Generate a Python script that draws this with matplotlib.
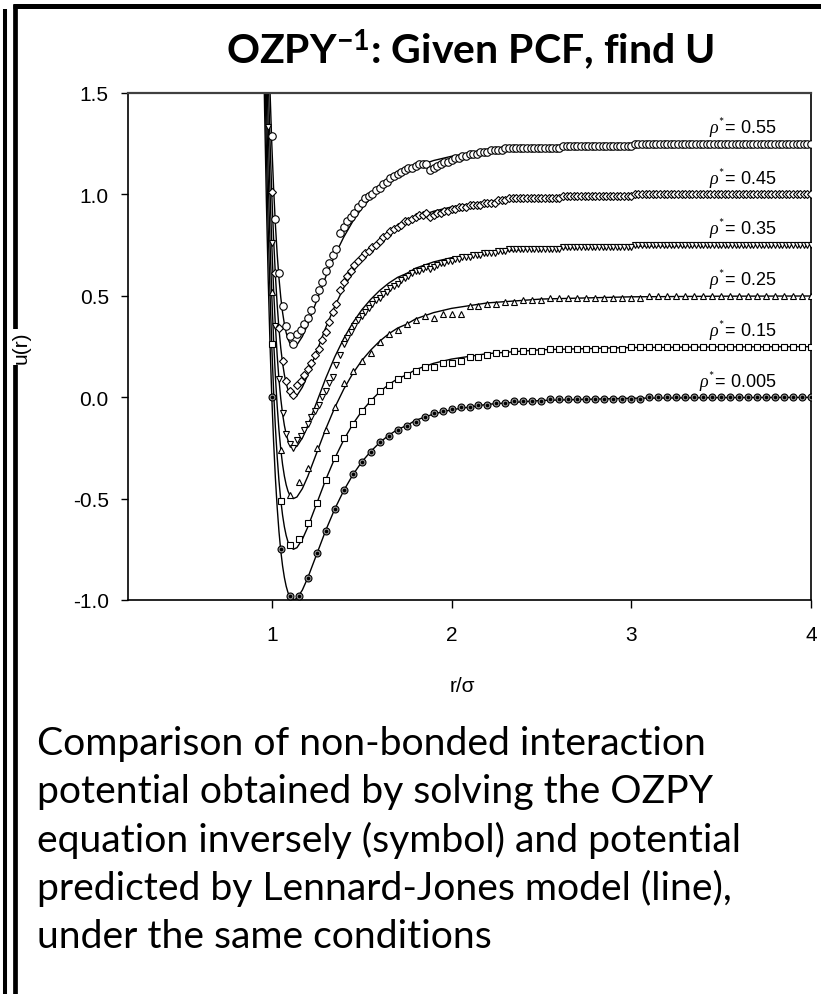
import matplotlib
matplotlib.use('Agg')
import matplotlib.pyplot as plt
import numpy as np
from matplotlib.lines import Line2D

plt.rcParams['font.family'] = ['Liberation Sans', 'DejaVu Sans']
plt.rcParams['mathtext.fontset'] = 'custom'
plt.rcParams['mathtext.rm'] = 'Lato'
plt.rcParams['mathtext.bf'] = 'Lato:bold'
plt.rcParams['mathtext.it'] = 'Liberation Serif:italic'

# sample positions of the inverse-OZPY symbols
r_sparse = np.round(np.arange(1.00, 4.001, 0.05), 2)
r_dense = np.round(np.arange(0.98, 4.001, 0.02), 2)

# Lennard-Jones reference line (shifted by 0.25 per density)
r_line = [0.95, 0.96, 0.97, 0.98, 0.99, 1.00, 1.01, 1.02, 1.03, 1.04,
          1.05, 1.06, 1.07, 1.08, 1.09, 1.10, 1.12, 1.14, 1.17, 1.20,
          1.25, 1.30, 1.35, 1.40, 1.45, 1.50, 1.55, 1.60, 1.65, 1.70,
          1.75, 1.80, 1.90, 2.00, 2.20, 2.50, 3.00, 3.50, 4.00]
u_lj = [1.961, 1.418, 0.963, 0.582, 0.264, 0.000, -0.218, -0.398, -0.544, -0.663,
        -0.758, -0.832, -0.889, -0.932, -0.963, -0.983, -1.000, -0.992, -0.951, -0.891,
        -0.774, -0.657, -0.552, -0.461, -0.384, -0.320, -0.268, -0.224, -0.188, -0.159,
        -0.140, -0.114, -0.083, -0.062, -0.035, -0.016, -0.005, -0.002, -0.001]

densities = ['0.005', '0.15', '0.25', '0.35', '0.45', '0.55']
shift = [0.00, 0.25, 0.50, 0.75, 1.00, 1.25]

u_0005 = [0.00, -0.75, -0.98, -0.98, -0.89, -0.77, -0.66, -0.55, -0.46, -0.38,
          -0.32, -0.27, -0.22, -0.19, -0.16, -0.14, -0.12, -0.10, -0.08, -0.07,
          -0.06, -0.05, -0.05, -0.04, -0.04, -0.03, -0.03, -0.02, -0.02, -0.02,
          -0.02, -0.01, -0.01, -0.01, -0.01, -0.01, -0.01, -0.01, -0.01, -0.01,
          -0.01, -0.01, 0.00, 0.00, 0.00, 0.00, 0.00, 0.00, 0.00, 0.00,
          0.00, 0.00, 0.00, 0.00, 0.00, 0.00, 0.00, 0.00, 0.00, 0.00,
          0.00]

u_015 = [0.26, -0.51, -0.73, -0.70, -0.62, -0.52, -0.41, -0.30, -0.20, -0.13,
         -0.07, -0.02, 0.03, 0.06, 0.09, 0.11, 0.13, 0.15, 0.15, 0.17,
         0.17, 0.18, 0.20, 0.20, 0.21, 0.22, 0.22, 0.23, 0.23, 0.23,
         0.23, 0.24, 0.24, 0.24, 0.24, 0.24, 0.24, 0.24, 0.24, 0.24,
         0.25, 0.25, 0.25, 0.25, 0.25, 0.25, 0.25, 0.25, 0.25, 0.25,
         0.25, 0.25, 0.25, 0.25, 0.25, 0.25, 0.25, 0.25, 0.25, 0.25,
         0.25]

u_025 = [0.52, -0.26, -0.48, -0.42, -0.35, -0.25, -0.16, -0.05, 0.07, 0.13,
         0.18, 0.22, 0.27, 0.31, 0.33, 0.36, 0.38, 0.40, 0.39, 0.41,
         0.41, 0.41, 0.45, 0.45, 0.46, 0.46, 0.47, 0.47, 0.48, 0.48,
         0.48, 0.49, 0.49, 0.49, 0.49, 0.49, 0.49, 0.49, 0.49, 0.49,
         0.49, 0.49, 0.50, 0.50, 0.50, 0.50, 0.50, 0.50, 0.50, 0.50,
         0.50, 0.50, 0.50, 0.50, 0.50, 0.50, 0.50, 0.50, 0.50, 0.50,
         0.50]

u_035 = [1.33, 0.76, 0.35, 0.09, -0.08, -0.18, -0.23, -0.25, -0.21, -0.19,
         -0.16, -0.13, -0.10, -0.07, -0.04, 0.00, 0.03, 0.07, 0.10, 0.16,
         0.21, 0.26, 0.29, 0.32, 0.35, 0.38, 0.40, 0.42, 0.44, 0.46,
         0.48, 0.49, 0.51, 0.52, 0.54, 0.55, 0.56, 0.58, 0.59, 0.60,
         0.61, 0.62, 0.62, 0.63, 0.64, 0.63, 0.64, 0.65, 0.66, 0.66,
         0.67, 0.67, 0.68, 0.68, 0.69, 0.69, 0.69, 0.70, 0.70, 0.70,
         0.71, 0.71, 0.71, 0.71, 0.72, 0.72, 0.72, 0.73, 0.73, 0.73,
         0.73, 0.73, 0.73, 0.73, 0.73, 0.73, 0.73, 0.73, 0.73, 0.73,
         0.73, 0.73, 0.74, 0.74, 0.74, 0.74, 0.74, 0.74, 0.74, 0.74,
         0.74, 0.74, 0.74, 0.74, 0.74, 0.74, 0.74, 0.74, 0.74, 0.74,
         0.74, 0.74, 0.75, 0.75, 0.75, 0.75, 0.75, 0.75, 0.75, 0.75,
         0.75, 0.75, 0.75, 0.75, 0.75, 0.75, 0.75, 0.75, 0.75, 0.75,
         0.75, 0.75, 0.75, 0.75, 0.75, 0.75, 0.75, 0.75, 0.75, 0.75,
         0.75, 0.75, 0.75, 0.75, 0.75, 0.75, 0.75, 0.75, 0.75, 0.75,
         0.75, 0.75, 0.75, 0.75, 0.75, 0.75, 0.75, 0.75, 0.75, 0.75,
         0.75, 0.75]

u_045 = [1.58, 1.01, 0.61, 0.34, 0.18, 0.08, 0.03, 0.01, 0.06, 0.08,
         0.11, 0.14, 0.17, 0.21, 0.24, 0.28, 0.32, 0.37, 0.42, 0.46,
         0.53, 0.57, 0.60, 0.62, 0.65, 0.67, 0.69, 0.71, 0.72, 0.74,
         0.75, 0.77, 0.79, 0.80, 0.82, 0.83, 0.84, 0.85, 0.87, 0.87,
         0.88, 0.89, 0.90, 0.90, 0.91, 0.89, 0.90, 0.91, 0.91, 0.92,
         0.92, 0.93, 0.93, 0.94, 0.94, 0.94, 0.95, 0.95, 0.95, 0.95,
         0.96, 0.96, 0.96, 0.96, 0.97, 0.97, 0.97, 0.98, 0.98, 0.98,
         0.98, 0.98, 0.98, 0.98, 0.98, 0.98, 0.98, 0.98, 0.98, 0.98,
         0.98, 0.98, 0.99, 0.99, 0.99, 0.99, 0.99, 0.99, 0.99, 0.99,
         0.99, 0.99, 0.99, 0.99, 0.99, 0.99, 0.99, 0.99, 0.99, 0.99,
         0.99, 0.99, 1.00, 1.00, 1.00, 1.00, 1.00, 1.00, 1.00, 1.00,
         1.00, 1.00, 1.00, 1.00, 1.00, 1.00, 1.00, 1.00, 1.00, 1.00,
         1.00, 1.00, 1.00, 1.00, 1.00, 1.00, 1.00, 1.00, 1.00, 1.00,
         1.00, 1.00, 1.00, 1.00, 1.00, 1.00, 1.00, 1.00, 1.00, 1.00,
         1.00, 1.00, 1.00, 1.00, 1.00, 1.00, 1.00, 1.00, 1.00, 1.00,
         1.00, 1.00]

u_055 = [1.83, 1.29, 0.88, 0.61, 0.45, 0.35, 0.30, 0.26, 0.31, 0.33,
         0.36, 0.39, 0.43, 0.49, 0.53, 0.57, 0.62, 0.66, 0.70, 0.73,
         0.81, 0.84, 0.87, 0.89, 0.91, 0.94, 0.96, 0.98, 0.99, 1.00,
         1.02, 1.03, 1.05, 1.06, 1.08, 1.09, 1.10, 1.11, 1.12, 1.13,
         1.13, 1.14, 1.15, 1.15, 1.15, 1.12, 1.13, 1.14, 1.15, 1.16,
         1.16, 1.17, 1.18, 1.18, 1.19, 1.19, 1.20, 1.20, 1.20, 1.21,
         1.21, 1.21, 1.22, 1.22, 1.22, 1.22, 1.23, 1.23, 1.23, 1.23,
         1.23, 1.23, 1.23, 1.23, 1.23, 1.23, 1.23, 1.23, 1.23, 1.23,
         1.23, 1.23, 1.24, 1.24, 1.24, 1.24, 1.24, 1.24, 1.24, 1.24,
         1.24, 1.24, 1.24, 1.24, 1.24, 1.24, 1.24, 1.24, 1.24, 1.24,
         1.24, 1.24, 1.25, 1.25, 1.25, 1.25, 1.25, 1.25, 1.25, 1.25,
         1.25, 1.25, 1.25, 1.25, 1.25, 1.25, 1.25, 1.25, 1.25, 1.25,
         1.25, 1.25, 1.25, 1.25, 1.25, 1.25, 1.25, 1.25, 1.25, 1.25,
         1.25, 1.25, 1.25, 1.25, 1.25, 1.25, 1.25, 1.25, 1.25, 1.25,
         1.25, 1.25, 1.25, 1.25, 1.25, 1.25, 1.25, 1.25, 1.25, 1.25,
         1.25, 1.25]

symbols = [
    (r_sparse, u_0005, 'o', 5.0, '#9a9a9a'),
    (r_sparse, u_015, 's', 4.6, 'white'),
    (r_sparse, u_025, '^', 5.0, 'white'),
    (r_dense, u_035, 'v', 5.0, 'white'),
    (r_dense, u_045, 'D', 4.4, 'white'),
    (r_dense, u_055, 'o', 5.4, 'white'),
]

fig = plt.figure(figsize=(8.21, 9.95), dpi=100)
ax = fig.add_axes([128 / 821, 1 - 601 / 995, 683 / 821, 507 / 995])

for k, (rr, uu, mk, ms, fc) in enumerate(symbols):
    ax.plot(r_line, np.array(u_lj) + shift[k], color='black', lw=1.0, zorder=2)
    ax.plot(rr, uu, ls='none', marker=mk, ms=ms, mfc=fc, mec='black',
            mew=0.8, zorder=3)
    if k == 0:
        ax.plot(rr, uu, ls='none', marker='o', ms=1.6, color='black', zorder=4)
    ax.text(3.81, shift[k] + 0.08, r'$\it{\rho}^{*}$= ' + densities[k],
            ha='right', va='center', fontsize=13, zorder=5)

ax.set_xlim(0.2, 4.0)
ax.set_ylim(-1.0, 1.5)
ax.set_xticks([1, 2, 3, 4])
ax.set_yticks([-1.0, -0.5, 0.0, 0.5, 1.0, 1.5])
ax.set_yticklabels(['-1.0', '-0.5', '0.0', '0.5', '1.0', '1.5'])
ax.tick_params(axis='y', length=4.8, width=1.0, pad=9, labelsize=15)
ax.tick_params(axis='x', length=5.8, width=1.0, pad=12, labelsize=15)
for side in ['left', 'bottom', 'right']:
    ax.spines[side].set_linewidth(1.2)
ax.spines['top'].set_linewidth(1.6)
ax.spines['top'].set_color('#404040')

fig.text(21 / 821, 1 - 348 / 995, 'u(r)', rotation=90, ha='center',
         va='center', fontsize=15, zorder=10,
         bbox=dict(facecolor='white', edgecolor='none', pad=1))
fig.text(462 / 821, 1 - 686 / 995, 'r/σ', ha='center', va='center',
         fontsize=15)

fig.text(470 / 821, 1 - 64 / 995, r'OZPY$^{\mathbf{-1}}$: Given PCF, find U',
         ha='center', va='baseline', fontsize=29.5, fontweight='bold',
         family='Lato')

caption = ['Comparison of non-bonded interaction',
           'potential obtained by solving the OZPY',
           'equation inversely (symbol) and potential',
           'predicted by Lennard-Jones model (line),',
           'under the same conditions']
for i, line in enumerate(caption):
    fig.text(37 / 821, 1 - (755 + 48.3 * i) / 995, line, ha='left',
             va='baseline', fontsize=28.2, family='Lato')

# slide frame
fig.add_artist(Line2D([13 / 821, 1.0], [1 - 6.7 / 995] * 2, lw=3.6,
                      color='black', solid_capstyle='butt'))
fig.add_artist(Line2D([15 / 821] * 2, [1 - 4.5 / 995, 0], lw=3.4,
                      color='black', solid_capstyle='butt'))
fig.add_artist(Line2D([5.3 / 821] * 2, [1 - 10 / 995, 0], lw=2.9,
                      color='black', solid_capstyle='butt'))

fig.savefig('out.png', dpi=100)
